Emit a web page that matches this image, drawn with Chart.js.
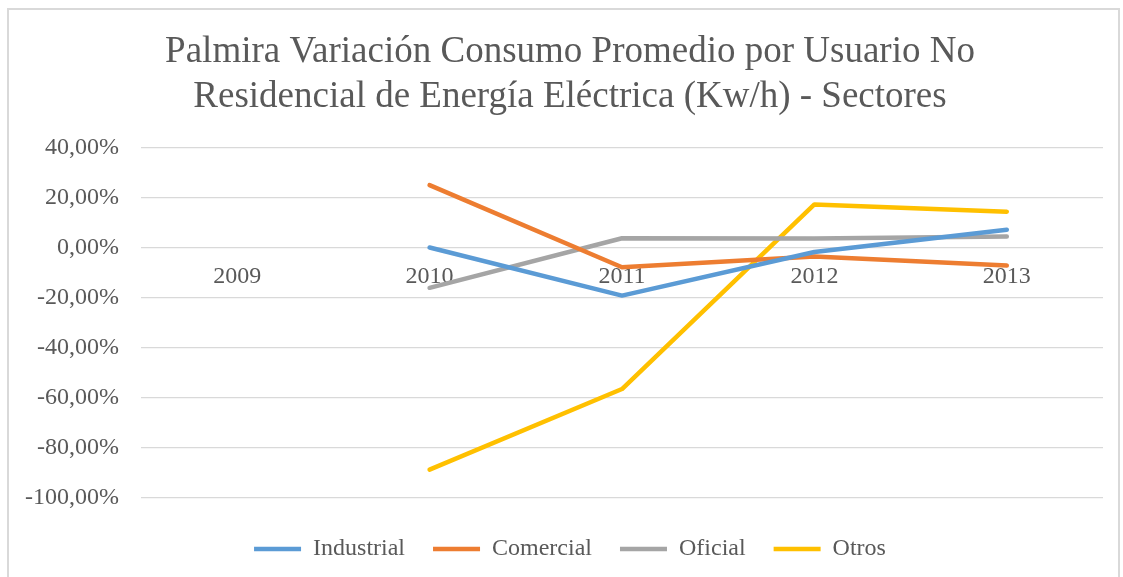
<!DOCTYPE html>
<html>
<head>
<meta charset="utf-8">
<script src="https://cdn.jsdelivr.net/npm/chart.js@4"></script>
<style>
  html, body { margin: 0; padding: 0; background: #fff; overflow: hidden; }
  #frame {
    position: absolute; left: 7px; top: 8px; width: 1109px; height: 600px;
    border-left: 2px solid #d9d9d9; border-top: 2px solid #d9d9d9; border-right: 2px solid #d9d9d9;
  }
  #wrap { position: absolute; left: 0; top: 0; width: 1137px; height: 577px; }
</style>
</head>
<body>
<div id="frame"></div>
<div id="wrap"><canvas id="chart"></canvas></div>
<script>
const years = ['2009', '2010', '2011', '2012', '2013'];
const industrial = [null, 0.0, -19.2, -1.8, 7.1];
const comercial = [null, 24.9, -7.9, -3.6, -7.2];
const oficial = [null, -16.1, 3.7, 3.6, 4.4];
const otros = [null, -88.7, -56.5, 17.2, 14.3];
const yTicks = [-100, -80, -60, -40, -20, 0, 20, 40];

const serif = '"Liberation Serif", "Times New Roman", serif';
const gris = '#595959';

function serie(label, data, color) {
    return {
        label: label,
        data: data,
        borderColor: color,
        backgroundColor: color,
        borderWidth: 4.5,
        borderCapStyle: 'round',
        borderJoinStyle: 'round',
        pointRadius: 0,
        pointHoverRadius: 0,
        pointStyle: 'line',
        tension: 0,
        spanGaps: false
    };
}

// blank axis used only as spacing
function spacer(position, size) {
    return {
        type: 'linear',
        position: position,
        display: true,
        grid: { display: false, drawTicks: false },
        border: { display: false },
        ticks: { display: false },
        afterFit: (scale) => {
            if (scale.isHorizontal()) scale.height = size;
            else scale.width = size;
        }
    };
}

new Chart(document.getElementById('chart'), {
    type: 'line',
    data: {
        labels: years,
        datasets: [
            serie('Industrial', industrial, '#5B9BD5'),
            serie('Comercial', comercial, '#ED7D31'),
            serie('Oficial', oficial, '#A5A5A5'),
            serie('Otros', otros, '#FFC000')
        ]
    },
    options: {
        responsive: true,
        maintainAspectRatio: false,
        animation: false,
        layout: { padding: { left: 3, right: 0, top: 0, bottom: 6 } },
        scales: {
            // years sit on the 0% line
            x: {
                type: 'category',
                position: { y: 0 },
                offset: true,
                grid: { display: false, drawTicks: false },
                border: { display: false },
                ticks: {
                    color: gris,
                    font: { family: serif, size: 24 },
                    padding: 15,
                    maxRotation: 0,
                    autoSkip: false
                }
            },
            gapBottom: Object.assign(spacer('bottom', 11), { axis: 'x' }),
            gapRight: Object.assign(spacer('right', 34), { axis: 'y' }),
            y: {
                min: yTicks[0],
                max: yTicks[yTicks.length - 1],
                afterBuildTicks: (axis) => { axis.ticks = yTicks.map(v => ({ value: v })); },
                grid: { color: '#d9d9d9', lineWidth: 1.3, drawTicks: false },
                border: { display: false },
                ticks: {
                    color: gris,
                    font: { family: serif, size: 24 },
                    padding: 22,
                    callback: (v) => v.toFixed(2).replace('.', ',') + '%'
                }
            }
        },
        plugins: {
            title: {
                display: true,
                text: ['Palmira Variación Consumo Promedio por Usuario No',
                       'Residencial de Energía Eléctrica (Kw/h) - Sectores'],
                color: gris,
                font: { family: serif, size: 37, weight: 'normal', lineHeight: 1.22 },
                padding: { top: 30, bottom: 27 }
            },
            legend: {
                position: 'bottom',
                labels: {
                    usePointStyle: true,
                    pointStyleWidth: 47,
                    color: gris,
                    font: { family: serif, size: 24 },
                    padding: 28
                }
            },
            tooltip: { enabled: false }
        }
    }
});
</script>
</body>
</html>
